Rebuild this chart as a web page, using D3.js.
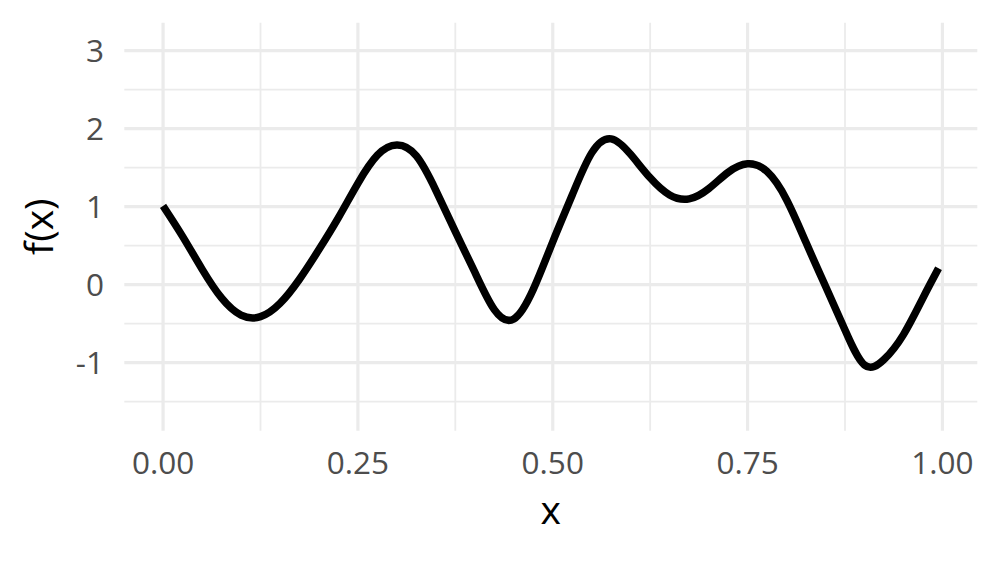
<!DOCTYPE html>
<html>
<head>
<meta charset="utf-8">
<script src="https://cdn.jsdelivr.net/npm/d3@7"></script>
<style>
  html, body { margin: 0; padding: 0; background: #ffffff; }
  svg { display: block; }
  text { font-family: "Open Sans", "Noto Sans", sans-serif; }
</style>
</head>
<body>
<svg id="chart" width="1000" height="562"></svg>
<script>
// ---- data ----
const xValues = [0.000, 0.025, 0.050, 0.075, 0.100, 0.125, 0.150, 0.175, 0.200, 0.225,
                 0.250, 0.275, 0.300, 0.325, 0.350, 0.375, 0.400, 0.425, 0.450, 0.475,
                 0.500, 0.525, 0.550, 0.575, 0.600, 0.625, 0.650, 0.675, 0.700, 0.725,
                 0.750, 0.775, 0.800, 0.825, 0.850, 0.875, 0.900, 0.925, 0.950, 0.975,
                 0.995];
const fValues = [1.01, 0.62, 0.20, -0.17, -0.39, -0.41, -0.24, 0.07, 0.45, 0.86,
                 1.30, 1.66, 1.79, 1.65, 1.21, 0.68, 0.16, -0.32, -0.44, -0.06,
                 0.55, 1.15, 1.69, 1.87, 1.67, 1.37, 1.15, 1.10, 1.23, 1.44,
                 1.55, 1.45, 1.09, 0.54, -0.02, -0.58, -1.03, -0.96, -0.64, -0.17,
                 0.21];
const xMajorTicks = [0, 0.25, 0.5, 0.75, 1];
const xMinorTicks = [0.125, 0.375, 0.625, 0.875];
const xTickLabels = ["0.00", "0.25", "0.50", "0.75", "1.00"];
const yMajorTicks = [-1, 0, 1, 2, 3];
const yMinorTicks = [-1.5, -0.5, 0.5, 1.5, 2.5];
const yTickLabels = ["-1", "0", "1", "2", "3"];
const xTitle = "x";
const yTitle = "f(x)";

// ---- layout ----
const svg = d3.select("#chart");
const panel = { left: 124.3, right: 977.3, top: 22.7, bottom: 430.7 };

const x = d3.scaleLinear().domain([-0.04975, 1.04475]).range([panel.left, panel.right]);
const y = d3.scaleLinear().domain([-1.872, 3.359]).range([panel.bottom, panel.top]);

const grid = svg.append("g");
// minor grid
grid.selectAll("line.ymin").data(yMinorTicks).join("line")
  .attr("x1", panel.left).attr("x2", panel.right)
  .attr("y1", d => y(d)).attr("y2", d => y(d))
  .attr("stroke", "#ebebeb").attr("stroke-width", 1.8);
grid.selectAll("line.xmin").data(xMinorTicks).join("line")
  .attr("y1", panel.top).attr("y2", panel.bottom)
  .attr("x1", d => x(d)).attr("x2", d => x(d))
  .attr("stroke", "#ebebeb").attr("stroke-width", 1.8);
// major grid
grid.selectAll("line.ymaj").data(yMajorTicks).join("line")
  .attr("x1", panel.left).attr("x2", panel.right)
  .attr("y1", d => y(d)).attr("y2", d => y(d))
  .attr("stroke", "#ebebeb").attr("stroke-width", 3.2);
grid.selectAll("line.xmaj").data(xMajorTicks).join("line")
  .attr("y1", panel.top).attr("y2", panel.bottom)
  .attr("x1", d => x(d)).attr("x2", d => x(d))
  .attr("stroke", "#ebebeb").attr("stroke-width", 3.2);

// curve
const pts = xValues.map((d, i) => [d, fValues[i]]);
const line = d3.line()
  .x(d => x(d[0]))
  .y(d => y(d[1]))
  .curve(d3.curveNatural);
svg.append("path")
  .datum(pts)
  .attr("d", line)
  .attr("fill", "none")
  .attr("stroke", "#000000")
  .attr("stroke-width", 7.5)
  .attr("stroke-linejoin", "round")
  .attr("stroke-linecap", "butt");

// tick labels
svg.append("g").selectAll("text").data(xMajorTicks).join("text")
  .attr("x", d => x(d))
  .attr("y", 473.5)
  .attr("text-anchor", "middle")
  .attr("font-size", 31.5)
  .attr("fill", "#4d4d4d")
  .text((d, i) => xTickLabels[i]);

svg.append("g").selectAll("text").data(yMajorTicks).join("text")
  .attr("x", 104)
  .attr("y", d => y(d) + 11.5)
  .attr("text-anchor", "end")
  .attr("font-size", 31.5)
  .attr("fill", "#4d4d4d")
  .text((d, i) => yTickLabels[i]);

// axis titles
svg.append("text")
  .attr("x", (panel.left + panel.right) / 2)
  .attr("y", 524)
  .attr("text-anchor", "middle")
  .attr("font-size", 39)
  .attr("fill", "#000000")
  .text(xTitle);

svg.append("text")
  .attr("transform", `translate(53, ${(panel.top + panel.bottom) / 2}) rotate(-90)`)
  .attr("text-anchor", "middle")
  .attr("font-size", 39)
  .attr("fill", "#000000")
  .text(yTitle);
</script>
</body>
</html>
